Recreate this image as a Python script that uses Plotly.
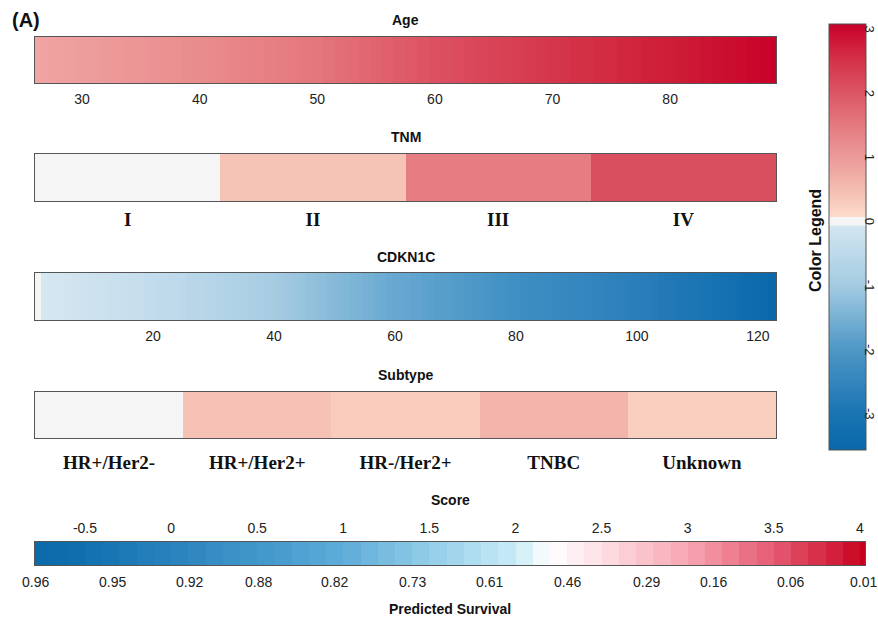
import numpy as np
import plotly.graph_objects as go

W, H = 878, 623

# ---------------- data ----------------
age_values = list(range(26, 90))
age_ticks = [30, 40, 50, 60, 70, 80]
age_range = [26, 89]

tnm_levels = ["I", "II", "III", "IV"]
tnm_points = [0.0, 0.4, 1.45, 2.1]

cdkn1c_values = list(range(1, 124))
cdkn1c_ticks = [20, 40, 60, 80, 100, 120]
cdkn1c_range = [0.5, 123]

subtype_levels = ["HR+/Her2-", "HR+/Her2+", "HR-/Her2+", "TNBC", "Unknown"]
subtype_points = [0.0, 0.42, 0.3, 0.62, 0.25]

score_values = [-0.75, -0.65, -0.55, -0.45, -0.35, -0.25, -0.15, -0.05, 0.05, 0.15,
                0.25, 0.35, 0.45, 0.55, 0.65, 0.75, 0.85, 0.95, 1.05, 1.15,
                1.25, 1.35, 1.45, 1.55, 1.65, 1.75, 1.85, 1.95, 2.05, 2.15,
                2.25, 2.35, 2.45, 2.55, 2.65, 2.75, 2.85, 2.95, 3.05, 3.15,
                3.25, 3.35, 3.45, 3.55, 3.65, 3.75, 3.85, 3.95, 4.05]
score_ticks = [-0.5, 0, 0.5, 1, 1.5, 2, 2.5, 3, 3.5, 4]
score_tick_text = ["-0.5", "0", "0.5", "1", "1.5", "2", "2.5", "3", "3.5", "4"]
score_range = [-0.79, 4.03]
survival_labels = ["0.96", "0.95", "0.92", "0.88", "0.82", "0.73", "0.61",
                   "0.46", "0.29", "0.16", "0.06", "0.01"]
survival_at_score = [-0.79, -0.34, 0.11, 0.51, 0.95, 1.40, 1.85, 2.30, 2.76,
                     3.15, 3.60, 4.03]

legend_ticks = [-3, -2, -1, 0, 1, 2, 3]
legend_tick_text = ["-3", "-2", "-1", "0", "1", "2", "3"]
legend_range = [-3.57, 3.08]

# colour stops (value, colour)
legend_stops = [(-3.57, '#0868a9'), (-3.0, '#1a74b2'), (-2.0, '#4e97c6'),
                (-1.0, '#a3cbe2'), (-0.07, '#d3e6f1'), (-0.06, '#f5f5f5'),
                (0.06, '#f5f5f5'), (0.07, '#fcdccc'), (0.5, '#f4bcb0'),
                (1.0, '#eb9a9a'), (1.5, '#e47a80'), (2.0, '#dc5666'),
                (2.5, '#d43349'), (3.08, '#c9002a')]
age_stops = [(26, '#efa5a2'), (40, '#e98c8e'), (50, '#e4767d'), (60, '#dc5062'),
             (70, '#d5364b'), (80, '#ce1d36'), (89, '#c9002a')]
cdkn_stops = [(1, '#f5f5f5'), (1.5, '#f5f5f5'), (1.6, '#d5e7f1'), (20, '#c3dcec'),
              (40, '#a6cce2'), (60, '#67a8d1'), (80, '#3f8fc3'), (100, '#2a7eba'),
              (123, '#0868ab')]
score_stops = [(-0.79, '#0b6aab'), (-0.5, '#1070ae'), (0, '#2a82be'), (0.5, '#4097c9'),
               (1, '#5eacd8'), (1.5, '#92cde8'), (2, '#caecf7'), (2.2, '#ffffff'),
               (2.5, '#fde0e4'), (3, '#f6a5b2'), (3.5, '#e55a72'), (4.03, '#c8001e')]


def cscale(stops):
    lo, hi = stops[0][0], stops[-1][0]
    return [[(v - lo) / (hi - lo), c] for v, c in stops]


def ydom(top, bot):
    return [1 - bot / H, 1 - top / H]


X0, X1 = 35 / W, 776 / W
SX0, SX1 = 35 / W, 865 / W
LINE = '#555555'
SANS = 'Liberation Sans'
SERIF = 'Liberation Serif'

# colour-legend bar geometry (pixels)
CB_LEFT, CB_TOP, CB_BOT, CB_THICK = 829, 24, 450, 37

fig = go.Figure()

fig.add_trace(go.Heatmap(x=age_values, y=[0], z=[age_values], colorscale=cscale(age_stops),
                         zmin=age_stops[0][0], zmax=age_stops[-1][0], showscale=False,
                         xaxis='x', yaxis='y', hoverinfo='skip'))
fig.add_trace(go.Heatmap(x=tnm_levels, y=[0], z=[tnm_points], colorscale=cscale(legend_stops),
                         zmin=legend_range[0], zmax=legend_range[1], showscale=True,
                         xaxis='x2', yaxis='y2', hoverinfo='skip',
                         colorbar=dict(x=CB_LEFT / W, xanchor='left', xpad=0, ypad=0,
                                       y=1 - (CB_TOP + CB_BOT) / 2 / H, yanchor='middle',
                                       len=CB_BOT - CB_TOP, lenmode='pixels',
                                       thickness=CB_THICK, thicknessmode='pixels',
                                       showticklabels=False, ticks='',
                                       outlinewidth=1, outlinecolor=LINE)))
fig.add_trace(go.Heatmap(x=cdkn1c_values, y=[0], z=[cdkn1c_values], colorscale=cscale(cdkn_stops),
                         zmin=cdkn_stops[0][0], zmax=cdkn_stops[-1][0], showscale=False,
                         xaxis='x3', yaxis='y3', hoverinfo='skip'))
fig.add_trace(go.Heatmap(x=subtype_levels, y=[0], z=[subtype_points], colorscale=cscale(legend_stops),
                         zmin=legend_range[0], zmax=legend_range[1], showscale=False,
                         xaxis='x4', yaxis='y4', hoverinfo='skip'))
fig.add_trace(go.Heatmap(x=score_values, y=[0], z=[score_values], colorscale=cscale(score_stops),
                         zmin=score_stops[0][0], zmax=score_stops[-1][0], showscale=False,
                         xaxis='x5', yaxis='y5', hoverinfo='skip'))

yax = dict(range=[-0.5, 0.5], showticklabels=False, showline=True, mirror=True,
           linecolor=LINE, linewidth=1, showgrid=False, zeroline=False, ticks='')


def xax(dom, **kw):
    d = dict(domain=dom, showline=True, mirror=True, linecolor=LINE, linewidth=1,
             showgrid=False, zeroline=False, ticks='outside', tickcolor='rgba(0,0,0,0)')
    d.update(kw)
    return d


sans_tick = dict(family=SANS, size=14, color='#222')
serif_tick = dict(family=SERIF, size=19, color='#111', weight='bold')

fig.update_layout(
    width=W, height=H, margin=dict(l=0, r=0, t=0, b=0),
    paper_bgcolor='white', plot_bgcolor='rgba(0,0,0,0)', showlegend=False,
    xaxis=xax([X0, X1], anchor='y', range=age_range, tickvals=age_ticks,
              ticklen=3, tickfont=sans_tick),
    yaxis=dict(yax, domain=ydom(37, 83), anchor='x'),
    xaxis2=xax([X0, X1], anchor='y2', range=[-0.5, 3.5], type='category',
               ticklen=1, tickfont=serif_tick),
    yaxis2=dict(yax, domain=ydom(154, 201), anchor='x2'),
    xaxis3=xax([X0, X1], anchor='y3', range=cdkn1c_range, tickvals=cdkn1c_ticks,
               ticklen=3, tickfont=sans_tick),
    yaxis3=dict(yax, domain=ydom(273, 320), anchor='x3'),
    xaxis4=xax([X0, X1], anchor='y4', range=[-0.5, 4.5], type='category',
               ticklen=7, tickfont=serif_tick),
    yaxis4=dict(yax, domain=ydom(392, 438), anchor='x4'),
    xaxis5=xax([SX0, SX1], anchor='y5', range=score_range, tickvals=score_ticks,
               ticktext=score_tick_text, side='top', ticklen=2, tickfont=sans_tick),
    yaxis5=dict(yax, domain=ydom(542, 565), anchor='x5'),
)

title_font = dict(family=SANS, size=14, color='#111', weight='bold')
ann = [
    dict(text='(A)', x=10 / W, y=1 - 20 / H, xanchor='left', yanchor='middle',
         font=dict(family=SANS, size=20, color='#111', weight='bold')),
    dict(text='Age', x=(35 + 776) / 2 / W, y=1 - 20 / H, font=title_font),
    dict(text='TNM', x=(35 + 776) / 2 / W, y=1 - 137 / H, font=title_font),
    dict(text='CDKN1C', x=(35 + 776) / 2 / W, y=1 - 257 / H, font=title_font),
    dict(text='Subtype', x=(35 + 776) / 2 / W, y=1 - 375 / H, font=title_font),
    dict(text='Score', x=(35 + 865) / 2 / W, y=1 - 500 / H, font=title_font),
    dict(text='Predicted Survival', x=(35 + 865) / 2 / W, y=1 - 609 / H, font=title_font),
    dict(text='Color Legend', x=815 / W, y=1 - 241 / H, textangle=-90,
         font=dict(family=SANS, size=16, color='#111', weight='bold')),
]


# survival labels placed on the score scale (converted to paper coords), below the bar
def score_to_paper(s):
    return SX0 + (s - score_range[0]) / (score_range[1] - score_range[0]) * (SX1 - SX0)


for s, lab in zip(survival_at_score, survival_labels):
    xp = score_to_paper(s)
    if xp > 0.98:
        ann.append(dict(text=lab, x=1.0, xanchor='right', y=1 - 582 / H, font=sans_tick,
                        borderpad=0))
    else:
        ann.append(dict(text=lab, x=xp, y=1 - 582 / H, font=sans_tick))


# colour-legend tick labels, rotated, at the right edge of the legend bar
def legend_to_paper(v):
    px = CB_TOP + (legend_range[1] - v) / (legend_range[1] - legend_range[0]) * (CB_BOT - CB_TOP)
    return 1 - px / H


for v, lab in zip(legend_ticks, legend_tick_text):
    ann.append(dict(text=lab, x=1.0, xanchor='right', y=legend_to_paper(v), textangle=90,
                    borderpad=0, font=dict(family=SANS, size=13, color='#222')))

for a in ann:
    a.setdefault('xanchor', 'center')
    a.setdefault('yanchor', 'middle')
    a.update(xref='paper', yref='paper', showarrow=False)
fig.update_layout(annotations=ann)

fig.write_html("out.html", config={'displayModeBar': False},
               post_script=("document.documentElement.style.overflow='hidden';"
                            "document.body.style.margin='0px';"
                            "document.body.style.overflow='hidden';"
                            "var gd=document.getElementById('{plot_id}');"
                            "gd.style.overflow='hidden';"))
